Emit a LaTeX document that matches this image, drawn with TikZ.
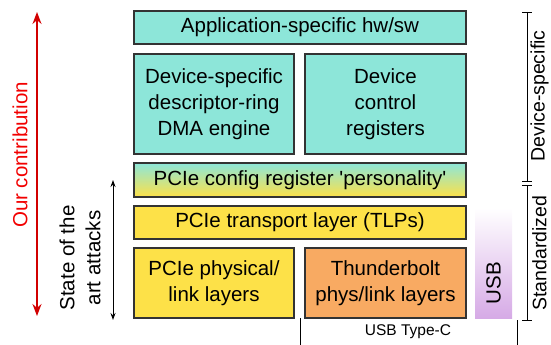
\documentclass[tikz,border=0pt]{standalone}
\usepackage{fontspec}
\setmainfont{Liberation Sans}
\usetikzlibrary{arrows.meta}

\definecolor{devteal}{RGB}{141,230,217}
\definecolor{pcieyellow}{RGB}{253,225,72}
\definecolor{tborange}{RGB}{248,170,98}
\definecolor{usbpurple}{RGB}{214,170,230}
\definecolor{contribred}{RGB}{210,0,0}

\begin{document}
\begin{tikzpicture}[x=1pt, y=-1pt, every node/.style={font=\fontsize{20.5}{26}\selectfont},
	layerbox/.style={draw=black!80, line width=1.1pt, align=center, inner sep=0pt},
	brace/.style={black, line width=0.8pt}]
	\useasboundingbox (0,0) rectangle (551,345);
	% layer stack
	\node[layerbox, fill=devteal, minimum width=332pt, minimum height=33pt] (app) at (300,27.5) {Application-specific hw/sw};
	\node[layerbox, fill=devteal, minimum width=160pt, minimum height=100pt] (dma) at (214,104) {Device-specific\\descriptor-ring\\DMA engine};
	\node[layerbox, fill=devteal, minimum width=161pt, minimum height=100pt] (regs) at (385.5,104) {Device\\control\\registers};
	\node[layerbox, top color=devteal, bottom color=pcieyellow, minimum width=332pt, minimum height=34pt] (config) at (300,180) {PCIe config register \textquotesingle personality\textquotesingle};
	\node[layerbox, fill=pcieyellow, minimum width=332pt, minimum height=33pt] (tlp) at (300,222.5) {PCIe transport layer (TLPs)};
	\node[layerbox, fill=pcieyellow, minimum width=160pt, minimum height=70pt] (phys) at (214,283) {PCIe physical/\\link layers};
	\node[layerbox, fill=tborange, minimum width=161pt, minimum height=70pt] (tbolt) at (385.5,283) {Thunderbolt\\phys/link layers};
	\node[top color=white, bottom color=usbpurple, minimum width=37pt, minimum height=110pt, inner sep=0pt] (usb) at (493.5,263) {};
	\node[rotate=90] (usblabel) at (493.5,283) {USB};
	% right brackets
	\coordinate (dtop) at (527,12); \coordinate (dbot) at (527,181);
	\coordinate (stop) at (527,185); \coordinate (sbot) at (527,320);
	\draw[brace] (dtop) -- (dbot);
	\draw[brace] ([xshift=-5pt]dtop) -- ([xshift=5pt]dtop);
	\draw[brace] ([xshift=-5pt]dbot) -- ([xshift=5pt]dbot);
	\draw[brace] (stop) -- (sbot);
	\draw[brace] ([xshift=-5pt]stop) -- ([xshift=5pt]stop);
	\draw[brace] ([xshift=-5pt]sbot) -- ([xshift=5pt]sbot);
	\node[rotate=90, font=\fontsize{19.5}{24}\selectfont] (devlabel) at (539.5,96) {Device-specific};
	\node[rotate=90, font=\fontsize{19.5}{24}\selectfont] (stdlabel) at (539.5,253) {Standardized};
	% USB Type-C connector span
	\coordinate (cleft) at (300,318); \coordinate (cleftb) at (300,345);
	\coordinate (cright) at (517,320); \coordinate (crightb) at (517,345);
	\draw[brace] (cleft) -- (cleftb);
	\draw[brace] (cright) -- (crightb);
	\node[font=\fontsize{15.5}{18}\selectfont] (typec) at (408,332) {USB Type-C};
	% left arrows
	\coordinate (ctop) at (37,12); \coordinate (cbot) at (37,316);
	\draw[contribred, line width=1.6pt, {Stealth[length=12pt,width=9pt]}-{Stealth[length=12pt,width=9pt]}] (ctop) -- (cbot);
	\node[rotate=90, text=red!95!black] (contrib) at (20,155) {Our contribution};
	\coordinate (atop) at (113,180); \coordinate (abot) at (113,320);
	\draw[black, line width=0.9pt, {Stealth[length=7pt,width=5pt]}-{Stealth[length=7pt,width=5pt]}] (atop) -- (abot);
	\node[rotate=90, align=center] (soa) at (80,258) {State of the\\art attacks};
\end{tikzpicture}
\end{document}
